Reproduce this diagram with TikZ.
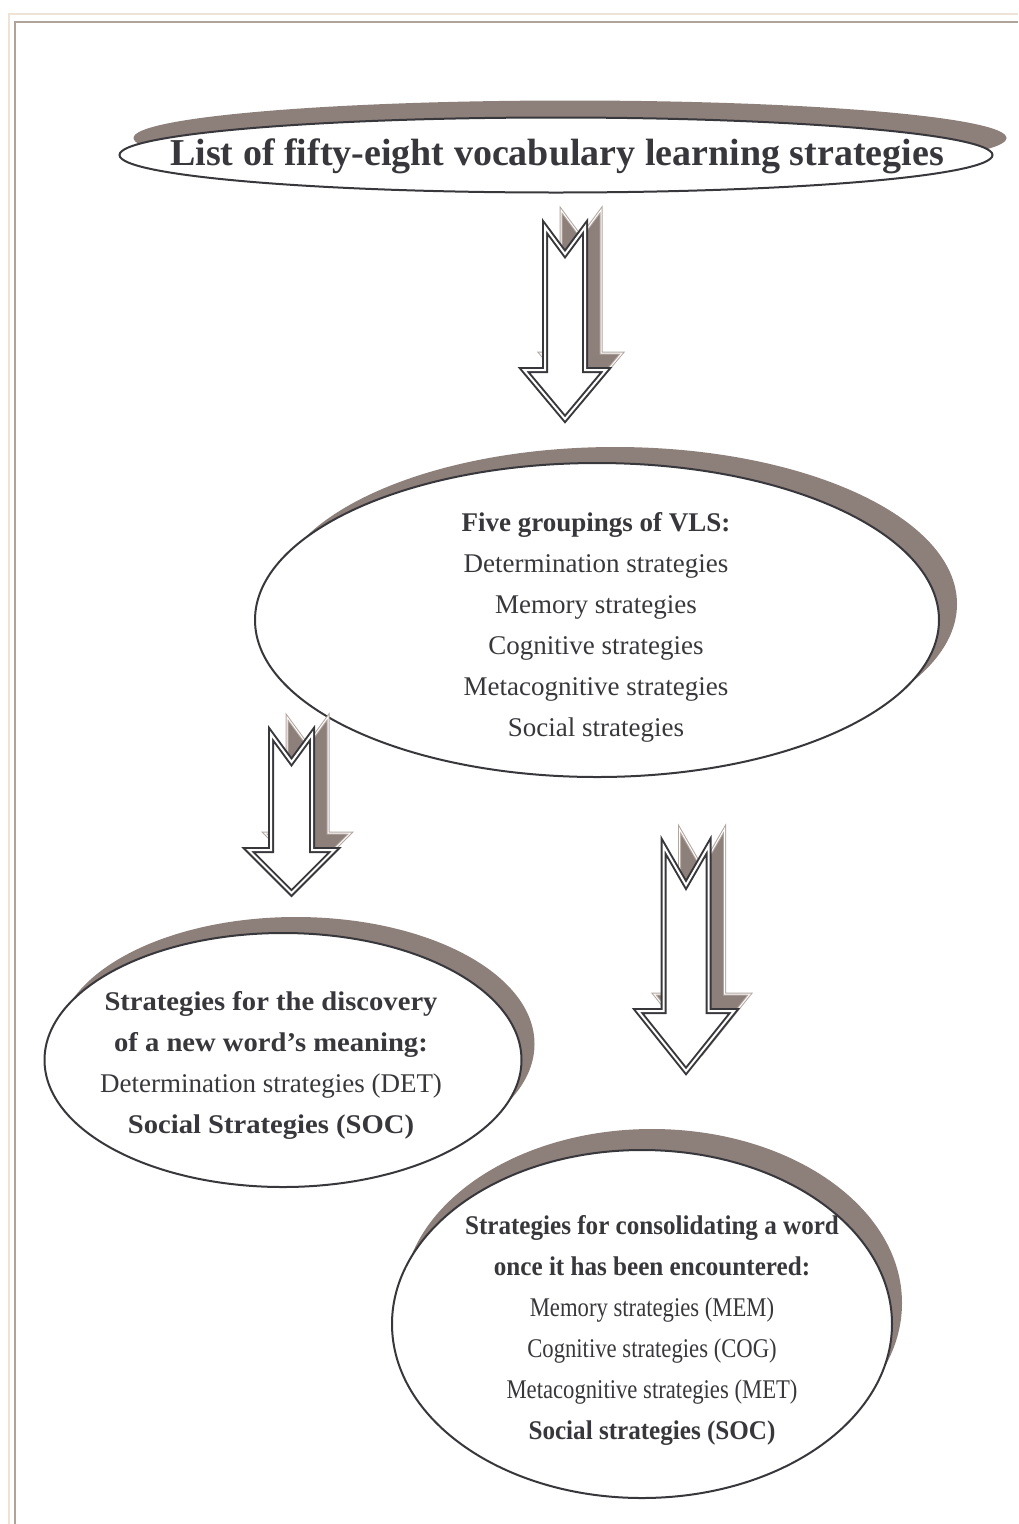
\documentclass[tikz,border=0pt]{standalone}
\usepackage{fontspec}
\setmainfont{Liberation Serif}
\newfontfamily\narrowfont[FakeStretch=0.84]{Liberation Serif}
\newfontfamily\semifont[FakeStretch=0.93]{Liberation Serif}
\newfontfamily\widefont[FakeStretch=1.06]{Liberation Serif}
\usetikzlibrary{calc,shapes.geometric,shadows}

\definecolor{inkc}{RGB}{56,56,60}
\definecolor{shadc}{RGB}{141,127,122}
\definecolor{shadl}{RGB}{178,166,160}
\definecolor{framea}{RGB}{237,227,214}
\definecolor{frameb}{RGB}{176,163,154}

% block arrow with its shadow: top centre, half shaft, notch, shaft length, half head, head length
\newcommand{\blockarrow}[6]{%
  \draw[arrowshadow] ($(#1)+(16,-17)+(-#2,0)$) -- ++(#2,#3) -- ++(#2,-#3) -- ++(0,#4)
    -- ++(#5-#2,0) -- ++(-#5,#6) -- ++(-#5,-#6) -- ++(#5-#2,0) -- cycle;
  \draw[arrowmain] ($(#1)+(-#2,0)$) -- ++(#2,#3) -- ++(#2,-#3) -- ++(0,#4)
    -- ++(#5-#2,0) -- ++(-#5,#6) -- ++(-#5,-#6) -- ++(#5-#2,0) -- cycle;
}

\tikzset{
  bubble/.style={ellipse,draw=inkc,line width=2pt,fill=white,inner sep=0pt},
  bubshadow/.style 2 args={drop shadow={shadow xshift=#1,shadow yshift=#2,
    opacity=1,fill=shadc,draw=none}},
  bubtext/.style={align=center,text=inkc,inner sep=0pt,font=\fontsize{27}{41}\selectfont},
  arrowmain/.style={draw=inkc,line width=2pt,double=white,
    double distance=2pt,fill=white,line join=miter},
  arrowshadow/.style={draw=shadl,line width=1pt,double=white,
    double distance=1pt,fill=shadc,line join=miter}
}

\begin{document}
\begin{tikzpicture}[x=1pt,y=-1pt]
    \useasboundingbox (0,0) rectangle (1018,1524);

    % page frame
    \draw[framea,line width=2pt] (9.3,1524) -- (9.3,14.3) -- (1018,14.3);
    \draw[frameb,line width=2pt] (15,1524) -- (15,22.3) -- (1018,22.3);

    \node (list) [bubble,bubshadow={14pt}{17pt},minimum width=873pt,minimum height=75pt]
        at (556,155) {};
    \node (listtxt) [bubtext,font=\fontsize{38}{44}\selectfont\bfseries] at (557,156)
        {List of fifty-eight vocabulary learning strategies};

    \node (groups) [bubble,bubshadow={18pt}{16pt},minimum width=684pt,minimum height=314pt]
        at (597,620) {};
    \node (groupstxt) [bubtext] at (596,627)
        {\textbf{Five groupings of VLS:}\\
         Determination strategies\\
         Memory strategies\\
         Cognitive strategies\\
         Metacognitive strategies\\
         Social strategies};

    \node (discover) [bubble,bubshadow={13pt}{16pt},minimum width=477pt,minimum height=254pt]
        at (283,1060) {};
    \node (discovertxt) [bubtext] at (271,1065)
        {{\widefont\bfseries Strategies for the discovery}\\
         {\widefont\bfseries of a new word’s meaning:}\\
         Determination strategies (DET)\\
         {\widefont\bfseries Social Strategies (SOC)}};

    \node (consol) [bubble,bubshadow={10pt}{21pt},minimum width=500pt,minimum height=348pt]
        at (642,1324) {};
    \node (consoltxt) [bubtext] at (652,1330)
        {{\semifont\bfseries Strategies for consolidating a word}\\
         {\semifont\bfseries once it has been encountered:}\\
         {\narrowfont Memory strategies (MEM)}\\
         {\narrowfont Cognitive strategies (COG)}\\
         {\narrowfont Metacognitive strategies (MET)}\\
         {\semifont\bfseries Social strategies (SOC)}};

    % arrows between the groupings
    \coordinate (arrA) at (565,227);
    \coordinate (arrB) at (291.5,734);
    \coordinate (arrC) at (686,846);

    \blockarrow{arrA}{20}{27}{143}{41}{49}
    \blockarrow{arrB}{20.5}{28}{116}{43}{43}
    \blockarrow{arrC}{22.5}{39}{165}{48}{60}
\end{tikzpicture}
\end{document}
